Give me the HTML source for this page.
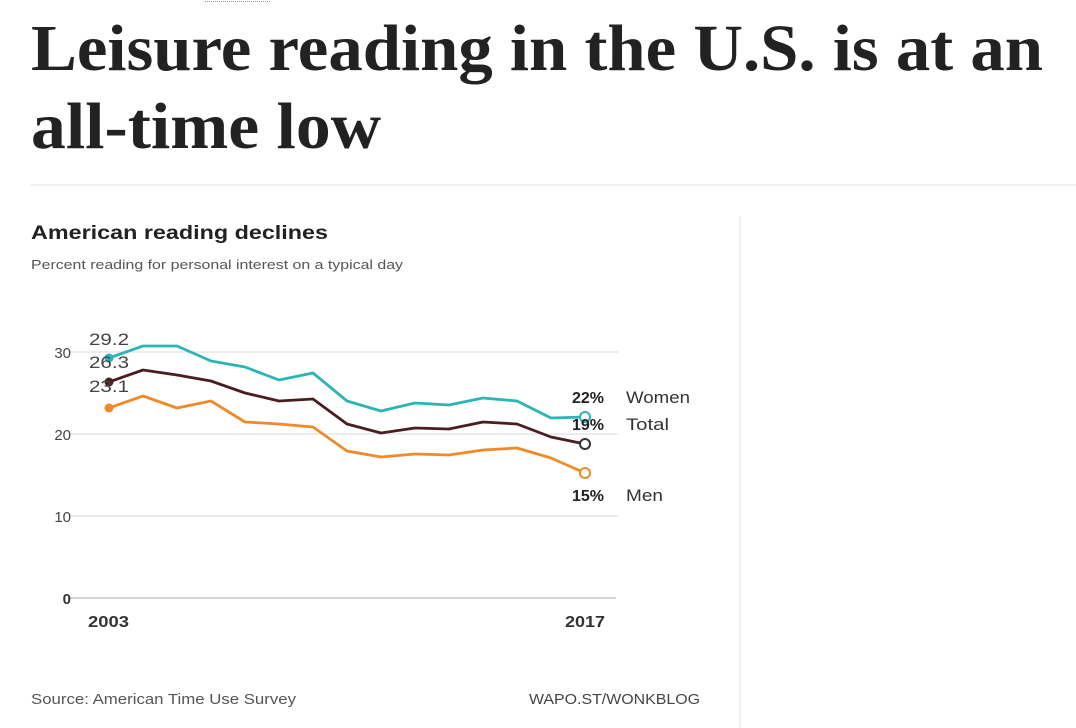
<!DOCTYPE html>
<html><head><meta charset="utf-8"><style>
html,body{margin:0;padding:0;background:#fff;width:1076px;height:728px;overflow:hidden}
</style></head><body>
<svg width="1076" height="728" xmlns="http://www.w3.org/2000/svg" style="display:block">
<line x1="205" y1="1.5" x2="270" y2="1.5" stroke="#999" stroke-dasharray="1,1"/>
<text x="31" y="70" font-family="Liberation Serif, serif" font-weight="bold" font-size="66" fill="#222" textLength="1012" lengthAdjust="spacingAndGlyphs">Leisure reading in the U.S. is at an</text>
<text x="31" y="148" font-family="Liberation Serif, serif" font-weight="bold" font-size="66" fill="#222" textLength="350" lengthAdjust="spacingAndGlyphs">all-time low</text>
<line x1="30" y1="185" x2="1076" y2="185" stroke="#ececec" stroke-width="1.5"/>
<line x1="740" y1="216" x2="740" y2="728" stroke="#eee" stroke-width="1.5"/>
<g font-family="Liberation Sans, sans-serif">
<text x="31" y="239" font-size="19" font-weight="bold" fill="#222" textLength="297" lengthAdjust="spacingAndGlyphs">American reading declines</text>
<text x="31" y="269" font-size="13" fill="#555" textLength="372" lengthAdjust="spacingAndGlyphs">Percent reading for personal interest on a typical day</text>
<g stroke="#e6e6e6" stroke-width="1.5">
<line x1="70" y1="352" x2="618" y2="352"/>
<line x1="70" y1="434" x2="618" y2="434"/>
<line x1="70" y1="516" x2="618" y2="516"/>
</g>
<line x1="70" y1="598" x2="616" y2="598" stroke="#ccc" stroke-width="1.5"/>
<g font-size="15" fill="#444" text-anchor="end">
<text x="71" y="358">30</text><text x="71" y="440">20</text><text x="71" y="522">10</text><text x="71" y="604" font-weight="bold" fill="#333">0</text>
</g>
<text x="88" y="627" font-size="16" font-weight="bold" fill="#333" textLength="41" lengthAdjust="spacingAndGlyphs">2003</text>
<text x="565" y="627" font-size="16" font-weight="bold" fill="#333" textLength="40" lengthAdjust="spacingAndGlyphs">2017</text>
<g fill="none" stroke-width="2.8" stroke-linejoin="round">
<polyline stroke="#2bb5b5" points="109,358 143,346 177,346 211,361 245,367 279,380 313,373 347,401 381,411 415,403 449,405 483,398 517,401 551,418 585,417"/>
<polyline stroke="#4a1d22" points="109,382 143,370 177,375 211,381 245,393 279,401 313,399 347,424 381,433 415,428 449,429 483,422 517,424 551,437 585,444"/>
<polyline stroke="#f0892a" points="109,408 143,396 177,408 211,401 245,422 279,424 313,427 347,451 381,457 415,454 449,455 483,450 517,448 551,458 585,473"/>
</g>
<circle cx="109" cy="358" r="4.5" fill="#2bb5b5"/>
<circle cx="109" cy="382" r="4.5" fill="#4a1d22"/>
<circle cx="109" cy="408" r="4.5" fill="#f0892a"/>
<circle cx="585" cy="417" r="5" fill="#fff" stroke="#2bb5b5" stroke-width="2"/>
<circle cx="585" cy="444" r="5" fill="#fff" stroke="#333" stroke-width="2"/>
<circle cx="585" cy="473" r="5" fill="#fff" stroke="#f0892a" stroke-width="2"/>
<g font-size="17" fill="#444">
<text x="89" y="345" textLength="40" lengthAdjust="spacingAndGlyphs">29.2</text><text x="89" y="368" textLength="40" lengthAdjust="spacingAndGlyphs">26.3</text><text x="89" y="392" textLength="40" lengthAdjust="spacingAndGlyphs">23.1</text>
</g>
<g font-size="16" font-weight="bold" fill="#222" text-anchor="end">
<text x="604" y="403">22%</text><text x="604" y="430">19%</text><text x="604" y="501">15%</text>
</g>
<g font-size="17" fill="#333">
<text x="626" y="403" textLength="64" lengthAdjust="spacingAndGlyphs">Women</text><text x="626" y="430" textLength="43" lengthAdjust="spacingAndGlyphs">Total</text><text x="626" y="501" textLength="37" lengthAdjust="spacingAndGlyphs">Men</text>
</g>
<text x="31" y="704" font-size="15" fill="#555" textLength="265" lengthAdjust="spacingAndGlyphs">Source: American Time Use Survey</text>
<text x="700" y="704" font-size="15" fill="#444" text-anchor="end" textLength="171" lengthAdjust="spacingAndGlyphs">WAPO.ST/WONKBLOG</text>
</g>
</svg>
</body></html>
